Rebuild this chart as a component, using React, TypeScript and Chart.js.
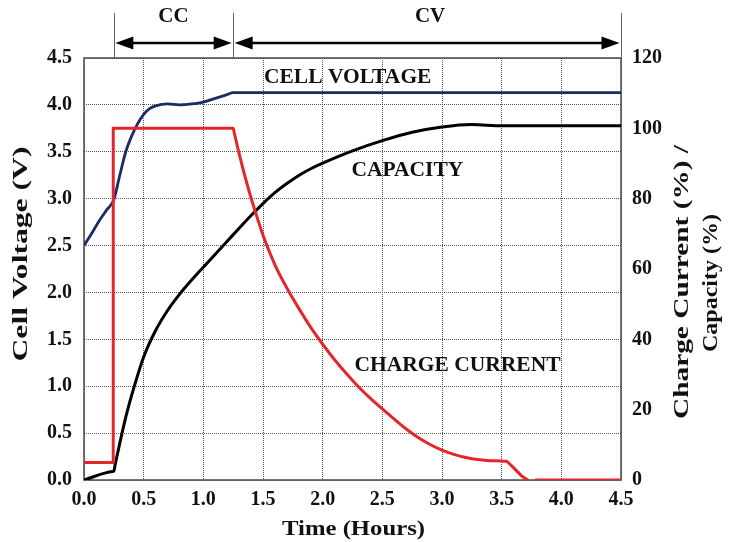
import { useEffect, useRef } from "react";
import { Chart, registerables } from "chart.js";

Chart.register(...registerables);

// Cell voltage (V) against time (hours)
const voltageTime = [0, 0.06, 0.125, 0.19, 0.25, 0.3, 0.35, 0.4, 0.45, 0.5, 0.55, 0.6, 0.7, 0.8, 0.9, 1.0, 1.1, 1.2, 1.25, 4.5];
const voltageValues = [2.5, 2.62, 2.76, 2.88, 2.99, 3.25, 3.5, 3.67, 3.8, 3.9, 3.96, 3.99, 4.01, 4.0, 4.01, 4.03, 4.07, 4.11, 4.13, 4.13];

// Capacity (%) against time (hours)
const capacityTime = [0, 0.24, 0.25, 0.26, 0.3, 0.36, 0.42, 0.5, 0.6, 0.7, 0.8, 0.9, 1.0, 1.1, 1.2, 1.3, 1.4, 1.5, 1.6, 1.7, 1.8, 1.9, 2.0, 2.25, 2.5, 2.75, 3.0, 3.25, 3.5, 4.5];
const capacityValues = [0, 2.4, 2.5, 4.2, 10.5, 19.2, 26.5, 35, 42.5, 48.2, 52.8, 56.8, 60.5, 64.2, 67.9, 71.6, 75.2, 78.6, 81.7, 84.3, 86.6, 88.5, 90.1, 93.6, 96.5, 98.9, 100.4, 101.1, 100.7, 100.7];

// Charge current (%) against time (hours); null leaves a break in the trace
const currentTime = [0, 0.245, 0.2451, 1.25, 1.26, 1.3, 1.35, 1.4, 1.45, 1.5, 1.6, 1.7, 1.8, 1.9, 2.0, 2.1, 2.2, 2.3, 2.4, 2.5, 2.6, 2.7, 2.8, 2.9, 3.0, 3.1, 3.2, 3.3, 3.4, 3.54, 3.55, 3.62, 3.67, 3.72, 3.75, 3.78, 4.5];
const currentValues = [5, 5, 100, 100, 98.6, 92.8, 86.2, 80.2, 74.8, 69.6, 61.2, 54.6, 48.8, 43.4, 38.6, 34.2, 30.2, 26.5, 23.2, 20.2, 17.3, 14.5, 12.1, 10.1, 8.5, 7.3, 6.4, 5.8, 5.5, 5.3, 5.1, 2.8, 1.1, 0, null, 0, 0];

// Axis ranges and tick steps
const timeRange = [0, 4.5];
const timeStep = 0.5;
const voltageRange = [0, 4.5];
const voltageStep = 0.5;
const percentRange = [0, 120];
const percentStep = 20;

// Charging phases: boundaries (hours), names and label positions (hours)
const phaseBounds = [0.25, 1.25, 4.5];
const phaseNames = ["CC", "CV"];
const phaseLabelTimes = [0.75, 2.9];

// Curve captions placed in time / voltage coordinates
const captionTexts = ["CELL VOLTAGE", "CAPACITY", "CHARGE CURRENT"];
const captionTimes = [2.21, 2.71, 3.13];
const captionVolts = [4.29, 3.3, 1.22];

const axisTitleX = "Time (Hours)";
const axisTitleLeft = "Cell Voltage (V)";
const axisTitleRight = ["Charge Current (%) /", "Capacity (%)"];

const SERIF = "'Liberation Serif', 'Times New Roman', serif";
const BLUE = "#1c2a68";
const RED = "#e4262b";
const INK = "#111111";

const pairs = (xs: number[], ys: (number | null)[]) => xs.map((x, i) => ({ x, y: ys[i] }));

function stretchedText(
  ctx: CanvasRenderingContext2D,
  text: string,
  x: number,
  y: number,
  angle: number,
  targetLength: number
) {
  const w = ctx.measureText(text).width;
  ctx.save();
  ctx.translate(x, y);
  ctx.rotate(angle);
  ctx.scale(targetLength / w, 1);
  ctx.fillText(text, 0, 0);
  ctx.restore();
}

const decorations = {
  id: "decorations",
  beforeDatasetsDraw(chart: any) {
    const { ctx, chartArea } = chart;
    ctx.save();
    ctx.strokeStyle = "#4a4a4a";
    ctx.lineWidth = 1.5;
    ctx.strokeRect(chartArea.left, chartArea.top, chartArea.right - chartArea.left, chartArea.bottom - chartArea.top);
    ctx.restore();
  },
  afterDraw(chart: any) {
    const { ctx, chartArea, scales } = chart;
    const xs = scales.x;
    const ys = scales.y;
    ctx.save();

    // Phase markers above the plot
    const markTop = 13;
    const arrowY = 43;
    ctx.strokeStyle = "#666";
    ctx.lineWidth = 1;
    phaseBounds.forEach((t) => {
      const px = Math.round(xs.getPixelForValue(t)) + 0.5;
      ctx.beginPath();
      ctx.moveTo(px, markTop);
      ctx.lineTo(px, chartArea.top);
      ctx.stroke();
    });

    const head = (tipX: number, dir: number) => {
      ctx.beginPath();
      ctx.moveTo(tipX, arrowY);
      ctx.lineTo(tipX - dir * 18, arrowY - 6.5);
      ctx.lineTo(tipX - dir * 18, arrowY + 6.5);
      ctx.closePath();
      ctx.fill();
    };
    ctx.fillStyle = "#000";
    ctx.strokeStyle = "#000";
    ctx.lineWidth = 2.5;
    for (let i = 0; i < phaseNames.length; i++) {
      const a = xs.getPixelForValue(phaseBounds[i]) + 1.5;
      const b = xs.getPixelForValue(phaseBounds[i + 1]) - 1.5;
      ctx.beginPath();
      ctx.moveTo(a + 10, arrowY);
      ctx.lineTo(b - 10, arrowY);
      ctx.stroke();
      head(a, -1);
      head(b, 1);
    }

    ctx.fillStyle = INK;
    ctx.textAlign = "center";
    ctx.textBaseline = "middle";
    ctx.font = `bold 21px ${SERIF}`;
    phaseNames.forEach((name, i) => {
      ctx.fillText(name, xs.getPixelForValue(phaseLabelTimes[i]), 17);
    });

    // Curve captions
    ctx.font = `bold 21.5px ${SERIF}`;
    captionTexts.forEach((text, i) => {
      ctx.fillText(text, xs.getPixelForValue(captionTimes[i]), ys.getPixelForValue(captionVolts[i]));
    });

    // Axis titles
    ctx.font = `bold 20px ${SERIF}`;
    stretchedText(ctx, axisTitleX, (chartArea.left + chartArea.right) / 2 + 1, 530, 0, 143);
    stretchedText(ctx, axisTitleLeft, 22, 254, -Math.PI / 2, 215);
    stretchedText(ctx, axisTitleRight[0], 683, 282, -Math.PI / 2, 274);
    stretchedText(ctx, axisTitleRight[1], 712, 283, -Math.PI / 2, 138);

    ctx.restore();
  },
};

export default function App() {
  const canvasRef = useRef<HTMLCanvasElement | null>(null);

  useEffect(() => {
    if (!canvasRef.current) return;
    const tickFont = { family: SERIF, size: 20, weight: "bold" as const };
    const gridColor = "#555555";
    const gridDash = [1, 1];

    const chart = new Chart(canvasRef.current, {
      type: "line",
      data: {
        datasets: [
          {
            label: "Charge current",
            data: pairs(currentTime, currentValues),
            yAxisID: "y1",
            borderColor: RED,
            borderWidth: 3,
            pointRadius: 0,
            cubicInterpolationMode: "monotone",
            spanGaps: false,
            order: 0,
          },
          {
            label: "Cell voltage",
            data: pairs(voltageTime, voltageValues),
            yAxisID: "y",
            borderColor: BLUE,
            borderWidth: 2.8,
            pointRadius: 0,
            cubicInterpolationMode: "monotone",
            order: 1,
          },
          {
            label: "Capacity",
            data: pairs(capacityTime, capacityValues),
            yAxisID: "y1",
            borderColor: "#000",
            borderWidth: 3,
            pointRadius: 0,
            cubicInterpolationMode: "monotone",
            order: 2,
          },
        ],
      },
      options: {
        animation: false,
        responsive: true,
        maintainAspectRatio: false,
        layout: { padding: { top: 58, left: 0, right: 0, bottom: 0 } },
        plugins: { legend: { display: false }, tooltip: { enabled: false } },
        scales: {
          x: {
            type: "linear",
            min: timeRange[0],
            max: timeRange[1],
            ticks: {
              stepSize: timeStep,
              autoSkip: false,
              maxRotation: 0,
              padding: 8,
              color: INK,
              font: tickFont,
              callback: (v: any) => Number(v).toFixed(1),
            },
            grid: { color: gridColor, lineWidth: 1, drawTicks: false },
            border: { display: false, dash: gridDash },
            afterFit: (s: any) => {
              s.height = 62;
            },
          },
          y: {
            type: "linear",
            position: "left",
            min: voltageRange[0],
            max: voltageRange[1],
            ticks: {
              stepSize: voltageStep,
              padding: 12,
              color: INK,
              font: tickFont,
              callback: (v: any) => Number(v).toFixed(1),
            },
            grid: { color: gridColor, lineWidth: 1, drawTicks: false },
            border: { display: false, dash: gridDash },
            afterFit: (s: any) => {
              s.width = 84;
            },
          },
          y1: {
            type: "linear",
            position: "right",
            min: percentRange[0],
            max: percentRange[1],
            ticks: {
              stepSize: percentStep,
              padding: 11,
              color: INK,
              font: tickFont,
            },
            grid: { drawOnChartArea: false, drawTicks: false },
            border: { display: false },
            afterFit: (s: any) => {
              s.width = 109;
            },
          },
        },
      },
      plugins: [decorations],
    });

    return () => chart.destroy();
  }, []);

  return (
    <div style={{ position: "absolute", left: 0, top: 0, width: 730, height: 542, background: "#fff" }}>
      <canvas ref={canvasRef} />
    </div>
  );
}
